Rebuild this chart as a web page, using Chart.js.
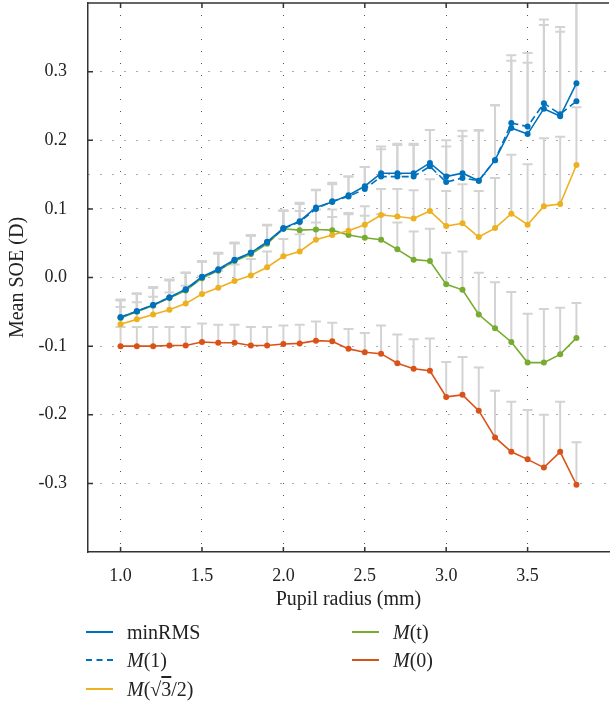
<!DOCTYPE html>
<html>
<head>
<meta charset="utf-8">
<script src="https://cdn.jsdelivr.net/npm/chart.js@4.4.1/dist/chart.umd.min.js"></script>
<style>
  html, body { margin: 0; padding: 0; background: #fff; }
  .wrap { position: relative; width: 612px; height: 706px; }
  .legend { font-family: "Liberation Serif", serif; font-size: 20px; color: #222; }
  .legend .item { position: absolute; white-space: nowrap; height: 20px; line-height: 20px; }
  .legend .swatch { position: absolute; left: 0; top: 9px; width: 27px; height: 0; border-top: 2px solid; }
  .legend .label { position: absolute; left: 41px; top: 0; }
  .ov { text-decoration: overline; }
</style>
</head>
<body>
<div class="wrap">
  <canvas id="chart"></canvas>
  <div class="legend">
    <div class="item" style="left:86px;top:622px"><span class="swatch" style="border-color:#0072BD"></span><span class="label">minRMS</span></div>
    <div class="item" style="left:86px;top:650px"><span class="swatch" style="border-top-style:dashed;border-color:#0072BD"></span><span class="label"><i>M</i>(1)</span></div>
    <div class="item" style="left:86px;top:679px"><span class="swatch" style="border-color:#EDB120"></span><span class="label"><i>M</i>(√<span class="ov">3</span>/2)</span></div>
    <div class="item" style="left:352px;top:622px"><span class="swatch" style="border-color:#77AC30"></span><span class="label"><i>M</i>(t)</span></div>
    <div class="item" style="left:352px;top:650px"><span class="swatch" style="border-color:#D95319"></span><span class="label"><i>M</i>(0)</span></div>
  </div>
</div>
<script>
// pupil radius (mm)
const radius = [1.0, 1.1, 1.2, 1.3, 1.4, 1.5, 1.6, 1.7, 1.8, 1.9, 2.0, 2.1, 2.2, 2.3, 2.4,
                2.5, 2.6, 2.7, 2.8, 2.9, 3.0, 3.1, 3.2, 3.3, 3.4, 3.5, 3.6, 3.7, 3.8];

// mean SOE (D)
const minRMS = [-0.058, -0.049, -0.040, -0.029, -0.017, 0.001, 0.012, 0.026, 0.036, 0.052, 0.072, 0.082, 0.102, 0.110, 0.120,
                0.133, 0.152, 0.152, 0.152, 0.167, 0.147, 0.152, 0.141, 0.171, 0.218, 0.209, 0.246, 0.235, 0.283];
const m1 = [-0.058, -0.049, -0.040, -0.029, -0.018, 0.000, 0.011, 0.025, 0.036, 0.051, 0.071, 0.081, 0.100, 0.111, 0.118,
            0.129, 0.147, 0.147, 0.147, 0.162, 0.139, 0.145, 0.141, 0.171, 0.225, 0.220, 0.254, 0.238, 0.257];
const mSqrt3 = [-0.068, -0.061, -0.054, -0.047, -0.038, -0.024, -0.015, -0.005, 0.003, 0.015, 0.031, 0.038, 0.055, 0.062, 0.068,
                0.077, 0.091, 0.089, 0.086, 0.097, 0.075, 0.079, 0.059, 0.072, 0.093, 0.077, 0.104, 0.107, 0.164];
const mT = [-0.059, -0.050, -0.041, -0.030, -0.019, -0.001, 0.010, 0.024, 0.034, 0.049, 0.071, 0.069, 0.070, 0.069, 0.062,
            0.058, 0.055, 0.041, 0.026, 0.024, -0.010, -0.018, -0.054, -0.074, -0.094, -0.124, -0.124, -0.112, -0.088];
const m0 = [-0.100, -0.100, -0.100, -0.099, -0.099, -0.094, -0.095, -0.095, -0.099, -0.099, -0.097, -0.096, -0.092, -0.093, -0.104,
            -0.109, -0.111, -0.125, -0.133, -0.136, -0.174, -0.171, -0.194, -0.233, -0.254, -0.265, -0.277, -0.254, -0.302];

// upper error (SD) for each series
const errMinRMS = [0.025, 0.025, 0.025, 0.025, 0.024, 0.022, 0.023, 0.024, 0.025, 0.024, 0.025, 0.025, 0.025, 0.026, 0.027,
                   0.028, 0.039, 0.043, 0.043, 0.048, 0.053, 0.062, 0.073, 0.080, 0.098, 0.104, 0.122, 0.123, 0.150];
const errM1 = [0.026, 0.026, 0.026, 0.026, 0.025, 0.024, 0.025, 0.026, 0.026, 0.026, 0.027, 0.028, 0.028, 0.027, 0.029,
               0.032, 0.040, 0.046, 0.046, 0.053, 0.052, 0.061, 0.074, 0.080, 0.099, 0.107, 0.122, 0.127, 0.160];
const errMSqrt3 = [0.025, 0.025, 0.026, 0.025, 0.026, 0.026, 0.025, 0.024, 0.024, 0.023, 0.025, 0.025, 0.025, 0.026, 0.026,
                   0.027, 0.038, 0.040, 0.041, 0.046, 0.051, 0.057, 0.067, 0.073, 0.086, 0.088, 0.099, 0.098, 0.084];
const errMT = [0.026, 0.026, 0.026, 0.026, 0.026, 0.024, 0.025, 0.026, 0.027, 0.027, 0.026, 0.028, 0.029, 0.030, 0.030,
               0.032, 0.037, 0.039, 0.041, 0.047, 0.046, 0.056, 0.061, 0.067, 0.073, 0.071, 0.078, 0.068, 0.051];
const errM0 = [0.028, 0.028, 0.028, 0.027, 0.027, 0.027, 0.026, 0.026, 0.027, 0.027, 0.027, 0.027, 0.028, 0.027, 0.029,
               0.028, 0.041, 0.042, 0.043, 0.047, 0.051, 0.055, 0.063, 0.068, 0.073, 0.072, 0.077, 0.073, 0.062];

// axis ticks
const xTicks = [1.0, 1.5, 2.0, 2.5, 3.0, 3.5];
const yTicks = [-0.3, -0.2, -0.1, 0.0, 0.1, 0.2, 0.3];
const yExtraGrid = [0.15];

const serif = '"Liberation Serif", "DejaVu Serif", serif';

function series(label, vals, err, color, dashed) {
  return {
    label: label,
    data: radius.map((r, i) => ({ x: r, y: vals[i] })),
    errUp: err,
    borderColor: color,
    backgroundColor: color,
    borderWidth: 1.6,
    borderDash: dashed ? [7, 4] : [],
    pointRadius: 3,
    pointHoverRadius: 3,
    pointBorderWidth: 0,
    tension: 0
  };
}

// upward error bars, drawn behind the lines
const errorBars = {
  id: 'errorBars',
  beforeDatasetsDraw(chart) {
    const { ctx, chartArea: a, scales: { x, y } } = chart;
    ctx.save();
    ctx.beginPath();
    ctx.rect(a.left, a.top, a.right - a.left, a.bottom - a.top);
    ctx.clip();
    ctx.strokeStyle = '#d3d3d3';
    ctx.lineWidth = 2;
    chart.data.datasets.slice().reverse().forEach(ds => {
      ds.data.forEach((p, i) => {
        const px = x.getPixelForValue(p.x);
        const y0 = y.getPixelForValue(p.y);
        const y1 = y.getPixelForValue(p.y + ds.errUp[i]);
        ctx.beginPath();
        ctx.moveTo(px, y0);
        ctx.lineTo(px, y1);
        ctx.moveTo(px - 5, y1);
        ctx.lineTo(px + 5, y1);
        ctx.stroke();
      });
    });
    ctx.restore();
  }
};

// top frame and inward tick marks
const frame = {
  id: 'frame',
  afterDraw(chart) {
    const { ctx, chartArea: a, scales: { x, y } } = chart;
    ctx.save();
    ctx.strokeStyle = '#333';
    ctx.lineWidth = 1.5;
    ctx.beginPath();
    ctx.moveTo(a.left, a.top);
    ctx.lineTo(a.right, a.top);
    xTicks.forEach(v => {
      const px = x.getPixelForValue(v);
      ctx.moveTo(px, a.bottom);
      ctx.lineTo(px, a.bottom - 5);
      ctx.moveTo(px, a.top);
      ctx.lineTo(px, a.top + 5);
    });
    yTicks.forEach(v => {
      const py = y.getPixelForValue(v);
      ctx.moveTo(a.left, py);
      ctx.lineTo(a.left + 5, py);
    });
    ctx.stroke();
    ctx.restore();
  }
};

new Chart(document.getElementById('chart'), {
  type: 'line',
  data: {
    datasets: [
      series('minRMS', minRMS, errMinRMS, '#0072BD', false),
      series('M(1)', m1, errM1, '#0072BD', true),
      series('M(√3/2)', mSqrt3, errMSqrt3, '#EDB120', false),
      series('M(t)', mT, errMT, '#77AC30', false),
      series('M(0)', m0, errM0, '#D95319', false)
    ]
  },
  options: {
    responsive: true,
    maintainAspectRatio: false,
    devicePixelRatio: 1,
    animation: false,
    layout: { padding: { top: 1, right: 0, bottom: 94, left: 0 } },
    plugins: {
      legend: { display: false },
      tooltip: { enabled: false }
    },
    scales: {
      x: {
        type: 'linear',
        min: 0.8,
        max: 4.0,
        afterBuildTicks: s => { s.ticks = xTicks.map(v => ({ value: v })); },
        afterFit: s => { s.height = 60; s.paddingLeft = 0; s.paddingRight = 0; },
        ticks: {
          padding: 13,
          color: '#222',
          font: { family: serif, size: 18 },
          callback: v => v.toFixed(1)
        },
        grid: { color: '#555', lineWidth: 1, drawTicks: false },
        border: { display: true, color: '#333', width: 1.5, dash: [1, 11] },
        title: {
          display: true,
          text: 'Pupil radius (mm)',
          color: '#222',
          font: { family: serif, size: 20 },
          padding: 0
        }
      },
      y: {
        min: -0.4,
        max: 0.4,
        afterBuildTicks: s => {
          s.ticks = yTicks.concat(yExtraGrid).map(v => ({ value: v }));
        },
        afterFit: s => { s.width = 88; s.paddingTop = 0; s.paddingBottom = 0; },
        ticks: {
          padding: 21,
          color: '#222',
          font: { family: serif, size: 18 },
          callback: v => (yTicks.indexOf(v) < 0 ? '' : v.toFixed(1))
        },
        grid: { color: '#555', lineWidth: 1, drawTicks: false },
        border: { display: true, color: '#333', width: 1.5, dash: [1, 11] },
        title: {
          display: true,
          text: 'Mean SOE (D)',
          color: '#222',
          font: { family: serif, size: 20 },
          padding: { top: 6, bottom: 0 }
        }
      }
    }
  },
  plugins: [errorBars, frame]
});
</script>
</body>
</html>
